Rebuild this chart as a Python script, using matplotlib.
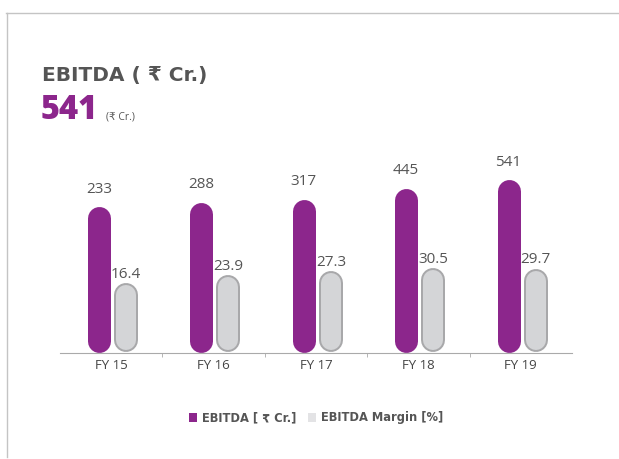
import matplotlib
matplotlib.use("Agg")
import matplotlib.pyplot as plt
from matplotlib.lines import Line2D
from matplotlib.patches import Patch

years = ["FY 15", "FY 16", "FY 17", "FY 18", "FY 19"]
ebitda = [233, 288, 317, 445, 541]
margin = [16.4, 23.9, 27.3, 30.5, 29.7]

purple = "#8c268c"
grey_fill = "#d4d5d7"
grey_edge = "#a8a8aa"
txt = "#555555"

plt.rcParams["font.family"] = ["Open Sans", "DejaVu Sans"]
wide = ["DejaVu Sans"]

W, H = 619, 459
fig = plt.figure(figsize=(W / 100, H / 100), dpi=100)
ax = fig.add_axes([60 / W, (H - 352.5) / H, 512 / W, (352.5 - 130) / H])
ax2 = ax.twinx()

# bars in the original are not drawn from zero, so each axis gets a "floor"
ax.set_ylim(-1427, 1111)
ax2.set_ylim(-48.9, 160.2)
ax.set_xlim(-0.5, 4.5)


def px_to_data(a, px):
    p0 = a.transData.transform((0, 0))[1]
    p1 = a.transData.transform((0, 1))[1]
    return px / (p1 - p0)


def pill(a, x, v, width_px, color, edge=None, edge_px=2):
    y0 = a.get_ylim()[0]
    hw = px_to_data(a, width_px / 2)
    ys = [y0 + hw, v - hw]
    if edge:
        a.plot([x, x], ys, color=edge, lw=width_px * 0.72,
               solid_capstyle="round", clip_on=False)
        a.plot([x, x], ys, color=color, lw=(width_px - 2 * edge_px) * 0.72,
               solid_capstyle="round", clip_on=False)
    else:
        a.plot([x, x], ys, color=color, lw=width_px * 0.72,
               solid_capstyle="round", clip_on=False)


for i in range(len(years)):
    pill(ax, i - 0.12, ebitda[i], 23, purple)
    ax.annotate(str(ebitda[i]), (i - 0.12, ebitda[i]), xytext=(0, 7.5),
                textcoords="offset points", ha="center", va="bottom",
                fontsize=11, color=txt)
    pill(ax2, i + 0.145, margin[i], 24, grey_fill, edge=grey_edge)
    ax2.annotate(f"{margin[i]:.1f}", (i + 0.145, margin[i]), xytext=(0, 1),
                 textcoords="offset points", ha="center", va="bottom",
                 fontsize=11, color=txt)

for a in (ax, ax2):
    for s in a.spines.values():
        s.set_visible(False)
    a.set_yticks([])
ax.spines["bottom"].set_visible(True)
ax.spines["bottom"].set_color("#aaaaaa")
ax.set_xticks(range(len(years)), years, fontsize=9.5, color="#444444")
ax.set_xticks([0.5, 1.5, 2.5, 3.5], minor=True)
ax.tick_params(axis="x", which="major", length=0, pad=5)
ax.tick_params(axis="x", which="minor", length=3, color="#aaaaaa")

# header
fig.text(42 / W, 1 - 75 / H, "EBITDA ( ₹ Cr.)", fontsize=14.5, fontweight="bold",
         color=txt, va="center", family=wide)
fig.text(41 / W, 1 - 110 / H, "541", fontsize=23.5, fontweight="heavy",
         color=purple, va="center")
fig.text(106 / W, 1 - 117 / H, "(₹ Cr.)", fontsize=7.5, color=txt, va="center")

handles = [Patch(facecolor=purple), Patch(facecolor="#e3e3e5")]
fig.legend(handles, ["EBITDA [ ₹ Cr.]", "EBITDA Margin [%]"], loc="center",
           bbox_to_anchor=(316 / W, 1 - 418 / H), ncol=2, frameon=False,
           handlelength=0.7, handleheight=0.7, handletextpad=0.4,
           columnspacing=1.0, labelcolor=txt,
           prop={"family": wide, "weight": "bold", "size": 8.3})

# card border
fig.add_artist(Line2D([6 / W, 1], [1 - 13 / H] * 2, color="#c4c4c4", lw=1,
                      transform=fig.transFigure))
fig.add_artist(Line2D([7 / W] * 2, [1 - 13 / H, 1 - 457 / H], color="#c4c4c4",
                      lw=1, transform=fig.transFigure))

fig.savefig("out.png", dpi=100)
